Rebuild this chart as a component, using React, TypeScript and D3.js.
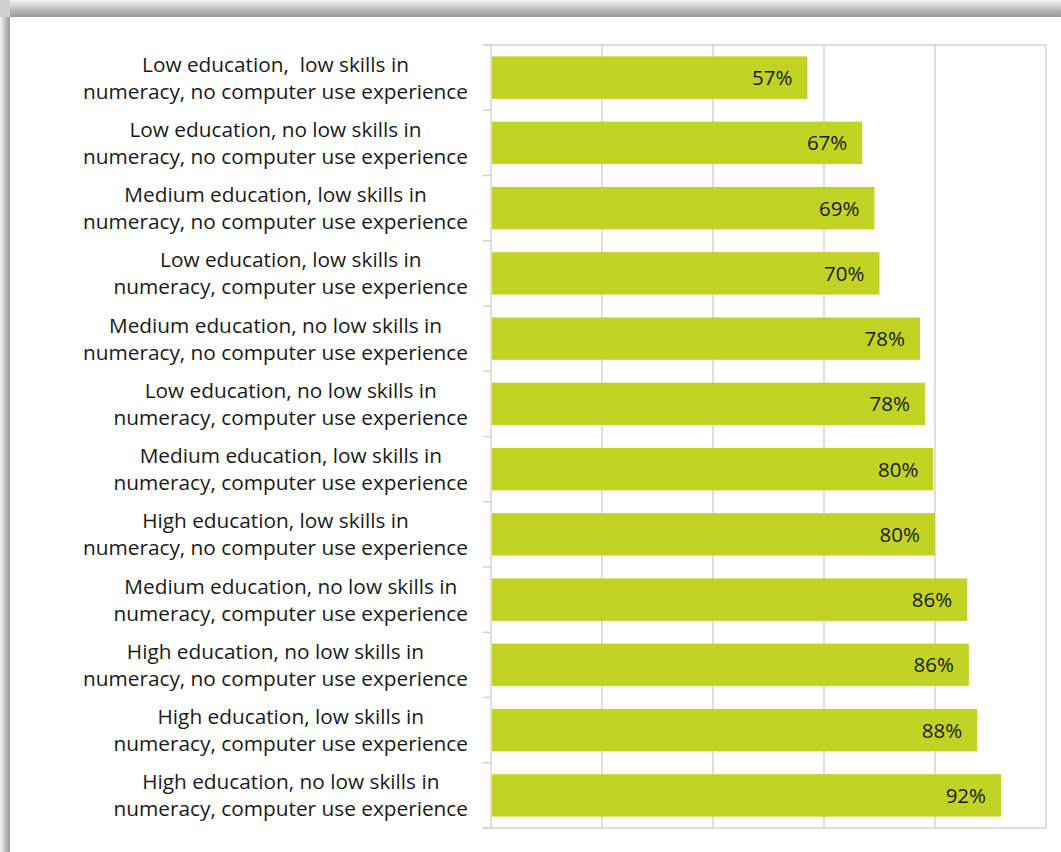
import React from 'react';
import * as d3 from 'd3';

const categories: string[][] = [
  ['Low education,  low skills in', 'numeracy, no computer use experience'],
  ['Low education, no low skills in', 'numeracy, no computer use experience'],
  ['Medium education, low skills in', 'numeracy, no computer use experience'],
  ['Low education, low skills in', 'numeracy, computer use experience'],
  ['Medium education, no low skills in', 'numeracy, no computer use experience'],
  ['Low education, no low skills in', 'numeracy, computer use experience'],
  ['Medium education, low skills in', 'numeracy, computer use experience'],
  ['High education, low skills in', 'numeracy, no computer use experience'],
  ['Medium education, no low skills in', 'numeracy, computer use experience'],
  ['High education, no low skills in', 'numeracy, no computer use experience'],
  ['High education, low skills in', 'numeracy, computer use experience'],
  ['High education, no low skills in', 'numeracy, computer use experience'],
];
const values: number[] = [0.570, 0.669, 0.691, 0.700, 0.773, 0.782, 0.797, 0.800, 0.858, 0.861, 0.876, 0.919];
const valueLabels: string[] = ['57%', '67%', '69%', '70%', '78%', '78%', '80%', '80%', '86%', '86%', '88%', '92%'];
const xTicks: number[] = [0, 0.2, 0.4, 0.6, 0.8, 1.0];

const W = 1061, H = 852;
const FONT = '"Open Sans", sans-serif';
const LABEL_SIZE = 20.8;

let ctx: CanvasRenderingContext2D | null = null;
function measure(t: string, size: number): number {
  if (!ctx) ctx = document.createElement('canvas').getContext('2d');
  if (!ctx) return t.length * size * 0.5;
  ctx.font = `${size}px ${FONT}`;
  return ctx.measureText(t).width;
}

export default function App() {
  const left = 491, right = 1046, top = 45, bottom = 828;
  const x = d3.scaleLinear().domain([0, 1]).range([left, right]);
  const y = d3.scaleBand<number>().domain(d3.range(categories.length)).range([top, bottom]).paddingInner(0.35).paddingOuter(0.175);
  const bandStep = (bottom - top) / categories.length;
  const grid = '#d4d4d4';
  const labelRight = 468;

  return (
    <svg width={W} height={H} style={{ position: 'absolute', left: 0, top: 0 }} xmlns="http://www.w3.org/2000/svg">
      <defs>
        <linearGradient id="topShadow" x1="0" y1="0" x2="0" y2="1">
          <stop offset="0" stopColor="#f4f4f4" />
          <stop offset="0.6" stopColor="#b8b8b8" />
          <stop offset="1" stopColor="#9a9a9a" />
        </linearGradient>
        <linearGradient id="leftShadow" x1="0" y1="0" x2="1" y2="0">
          <stop offset="0" stopColor="#f4f4f4" />
          <stop offset="0.6" stopColor="#b8b8b8" />
          <stop offset="1" stopColor="#9a9a9a" />
        </linearGradient>
      </defs>
      <rect x={0} y={0} width={W} height={H} fill="#ffffff" />
      <rect x={10} y={0} width={W - 10} height={17} fill="url(#topShadow)" />
      <rect x={0} y={17} width={10} height={H - 17} fill="url(#leftShadow)" />
      <rect x={0} y={0} width={10} height={17} fill="#d0d0d0" />

      {xTicks.slice(1).map((t) => (
        <line key={t} x1={x(t)} x2={x(t)} y1={top} y2={bottom} stroke={grid} strokeWidth={1.5} />
      ))}
      <line x1={483} x2={right} y1={top} y2={top} stroke={grid} strokeWidth={1.5} />
      <line x1={483} x2={right} y1={bottom} y2={bottom} stroke={grid} strokeWidth={1.5} />
      <line x1={left} x2={left} y1={top} y2={bottom} stroke={grid} strokeWidth={1.5} />
      {d3.range(categories.length + 1).map((i) => (
        <line key={'t' + i} x1={483} x2={left} y1={top + i * bandStep} y2={top + i * bandStep} stroke={grid} strokeWidth={1.5} />
      ))}

      {values.map((v, i) => (
        <rect key={'b' + i} x={x(0) + 1} y={y(i)!} width={x(v) - x(0) - 1} height={y.bandwidth()} fill="#c1d323" />
      ))}
      {values.map((v, i) => (
        <text key={'v' + i} x={x(v) - 15} y={y(i)! + y.bandwidth() / 2} dy="0.36em" textAnchor="end"
          fontFamily={FONT} fontSize={20.5} fill="#1a1a1a">{valueLabels[i]}</text>
      ))}

      {categories.map((lines, i) => {
        const wmax = Math.max(...lines.map((l) => measure(l, LABEL_SIZE)));
        const cx = labelRight - wmax / 2;
        const cy = top + (i + 0.5) * bandStep;
        return (
          <g key={'c' + i}>
            {lines.map((l, j) => (
              <text key={j} x={cx} y={cy + (j - 0.5) * 27} dy="0.36em" textAnchor="middle"
                fontFamily={FONT} fontSize={LABEL_SIZE} fill="#1a1a1a" style={{ whiteSpace: 'pre' }}>{l}</text>
            ))}
          </g>
        );
      })}
    </svg>
  );
}
